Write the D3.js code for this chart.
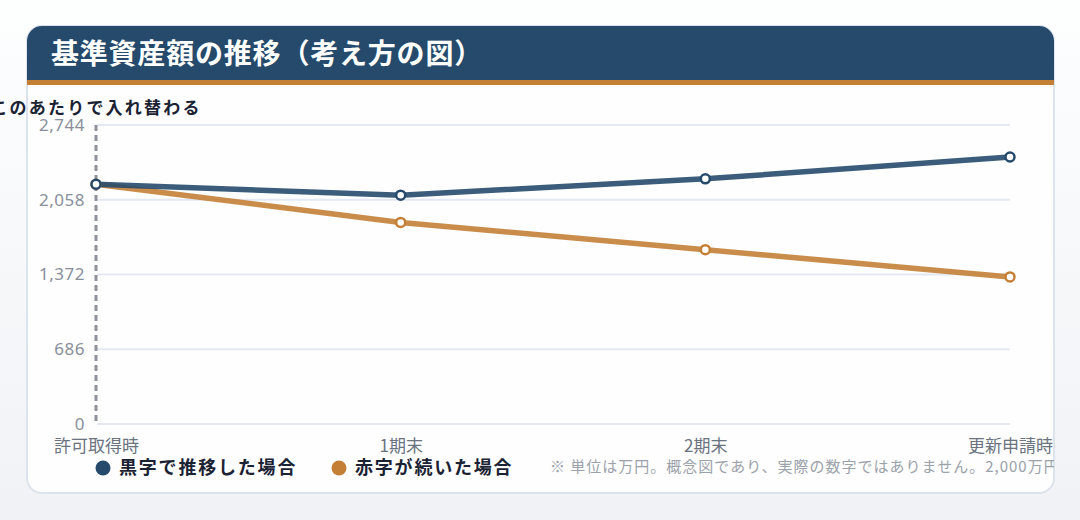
<!DOCTYPE html>
<html lang="ja">
<head>
<meta charset="utf-8">
<script src="https://cdn.jsdelivr.net/npm/d3@7"></script>
<style>
  html, body { margin: 0; padding: 0; }
  body { width: 1080px; height: 520px; overflow: hidden;
         background: linear-gradient(#fdfefe, #f1f2f6);
         font-family: "Noto Sans CJK JP", "Noto Sans", sans-serif; }
</style>
</head>
<body>
<svg id="chart" width="1080" height="520"></svg>
<script>
// chart data
var categories = ["許可取得時", "1期末", "2期末", "更新申請時"];
var kurojiValues = [2200, 2100, 2250, 2450];   // 黒字で推移した場合
var akajiValues  = [2200, 1850, 1600, 1350];   // 赤字が続いた場合
var yTicks = [0, 686, 1372, 2058, 2744];
var yMax = 2744;

var seriesNames = ["黒字で推移した場合", "赤字が続いた場合"];
var seriesColors = ["#264a6c", "#c47f36"];
var titleText = "基準資産額の推移（考え方の図）";
var annotationText = "このあたりで入れ替わる";
var noteText = "※ 単位は万円。概念図であり、実際の数字ではありません。2,000万円を下回らないことが要件です。";

var svg = d3.select("#chart");

// card
var card = { x: 27, y: 26, w: 1027, h: 467, r: 15 };

svg.append("defs").append("clipPath")
    .attr("id", "cardClip")
  .append("rect")
    .attr("x", card.x).attr("y", card.y)
    .attr("width", card.w).attr("height", card.h)
    .attr("rx", card.r);

svg.append("rect")
    .attr("x", card.x).attr("y", card.y)
    .attr("width", card.w).attr("height", card.h)
    .attr("rx", card.r)
    .attr("fill", "#fdfefd")
    .attr("stroke", "#dde3ee")
    .attr("stroke-width", 2);

var inner = svg.append("g").attr("clip-path", "url(#cardClip)");

// header band
inner.append("rect")
    .attr("x", card.x).attr("y", card.y)
    .attr("width", card.w).attr("height", 54)
    .attr("fill", "#254a6b");
inner.append("rect")
    .attr("x", card.x).attr("y", 80)
    .attr("width", card.w).attr("height", 5)
    .attr("fill", "#c27f35");

inner.append("text")
    .attr("x", 51).attr("y", 64)
    .attr("fill", "#ffffff")
    .attr("font-size", 28)
    .attr("font-weight", 700)
    .attr("letter-spacing", 0.8)
    .text(titleText);

// scales
var x = d3.scalePoint()
    .domain(categories)
    .range([96, 1010]);

var y = d3.scaleLinear()
    .domain([0, yMax])
    .range([424, 125]);

// grid
inner.append("g")
    .selectAll("line")
    .data(yTicks)
    .join("line")
    .attr("x1", 97).attr("x2", 1010)
    .attr("y1", d => y(d)).attr("y2", d => y(d))
    .attr("stroke", "#e3e8f3")
    .attr("stroke-width", 2);

// y axis labels
var yAxis = d3.axisLeft(y)
    .tickValues(yTicks)
    .tickSize(0)
    .tickPadding(0)
    .tickFormat(d3.format(","));

inner.append("g")
    .attr("transform", "translate(85,0)")
    .call(yAxis)
    .call(g => g.select(".domain").remove())
    .selectAll("text")
    .attr("fill", "#8a8f9c")
    .attr("font-size", 17)
    .attr("font-family", "'Noto Sans', sans-serif")
    .attr("letter-spacing", 0.5);

// x axis labels (drawn over the card edge, not clipped)
var xAxis = d3.axisBottom(x).tickSize(0).tickPadding(0);
svg.append("g")
    .attr("transform", "translate(0,440)")
    .call(xAxis)
    .call(g => g.select(".domain").remove())
    .selectAll("text")
    .attr("fill", "#6b7280")
    .attr("font-size", 17)
    .attr("font-family", "'Noto Sans CJK JP', sans-serif");

// switch marker (dashed line)
inner.append("line")
    .attr("x1", x(categories[0])).attr("x2", x(categories[0]))
    .attr("y1", y(yMax)).attr("y2", y(0))
    .attr("stroke", "#8c919b")
    .attr("stroke-width", 3)
    .attr("stroke-dasharray", "6,4");

// lines
var line = d3.line()
    .x((d, i) => x(categories[i]))
    .y(d => y(d));

var series = [akajiValues, kurojiValues];
var colors = [seriesColors[1], seriesColors[0]];

series.forEach(function(vals, k) {
    inner.append("path")
        .datum(vals)
        .attr("d", line)
        .attr("fill", "none")
        .attr("stroke", colors[k])
        .attr("stroke-width", 5.5)
        .attr("stroke-opacity", 0.9)
        .attr("stroke-linejoin", "round");
});

series.forEach(function(vals, k) {
    inner.append("g")
        .selectAll("circle")
        .data(vals)
        .join("circle")
        .attr("cx", (d, i) => x(categories[i]))
        .attr("cy", d => y(d))
        .attr("r", 4.5)
        .attr("fill", "#ffffff")
        .attr("stroke", colors[k])
        .attr("stroke-width", 2.5);
});

// legend
var legend = inner.append("g").attr("transform", "translate(0,468)");
var legendX = [103, 339];
seriesNames.forEach(function(name, i) {
    legend.append("circle")
        .attr("cx", legendX[i]).attr("cy", 0)
        .attr("r", 7.5)
        .attr("fill", seriesColors[i]);
    legend.append("text")
        .attr("x", legendX[i] + 16).attr("y", 0)
        .attr("dy", "0.35em")
        .attr("fill", "#1a2233")
        .attr("font-size", 18)
        .attr("font-weight", 700)
        .attr("letter-spacing", 1.8)
        .text(name);
});

// note
inner.append("text")
    .attr("x", 550).attr("y", 467)
    .attr("dy", "0.35em")
    .attr("fill", "#9ba1ab")
    .attr("font-size", 15)
    .attr("letter-spacing", 1)
    .text(noteText);

// annotation (sticks out of the card on the left)
svg.append("text")
    .attr("x", x(categories[0])).attr("y", 114)
    .attr("text-anchor", "middle")
    .attr("fill", "#1a2233")
    .attr("font-size", 17)
    .attr("font-weight", 700)
    .attr("letter-spacing", 2.2)
    .text(annotationText);
</script>
</body>
</html>
